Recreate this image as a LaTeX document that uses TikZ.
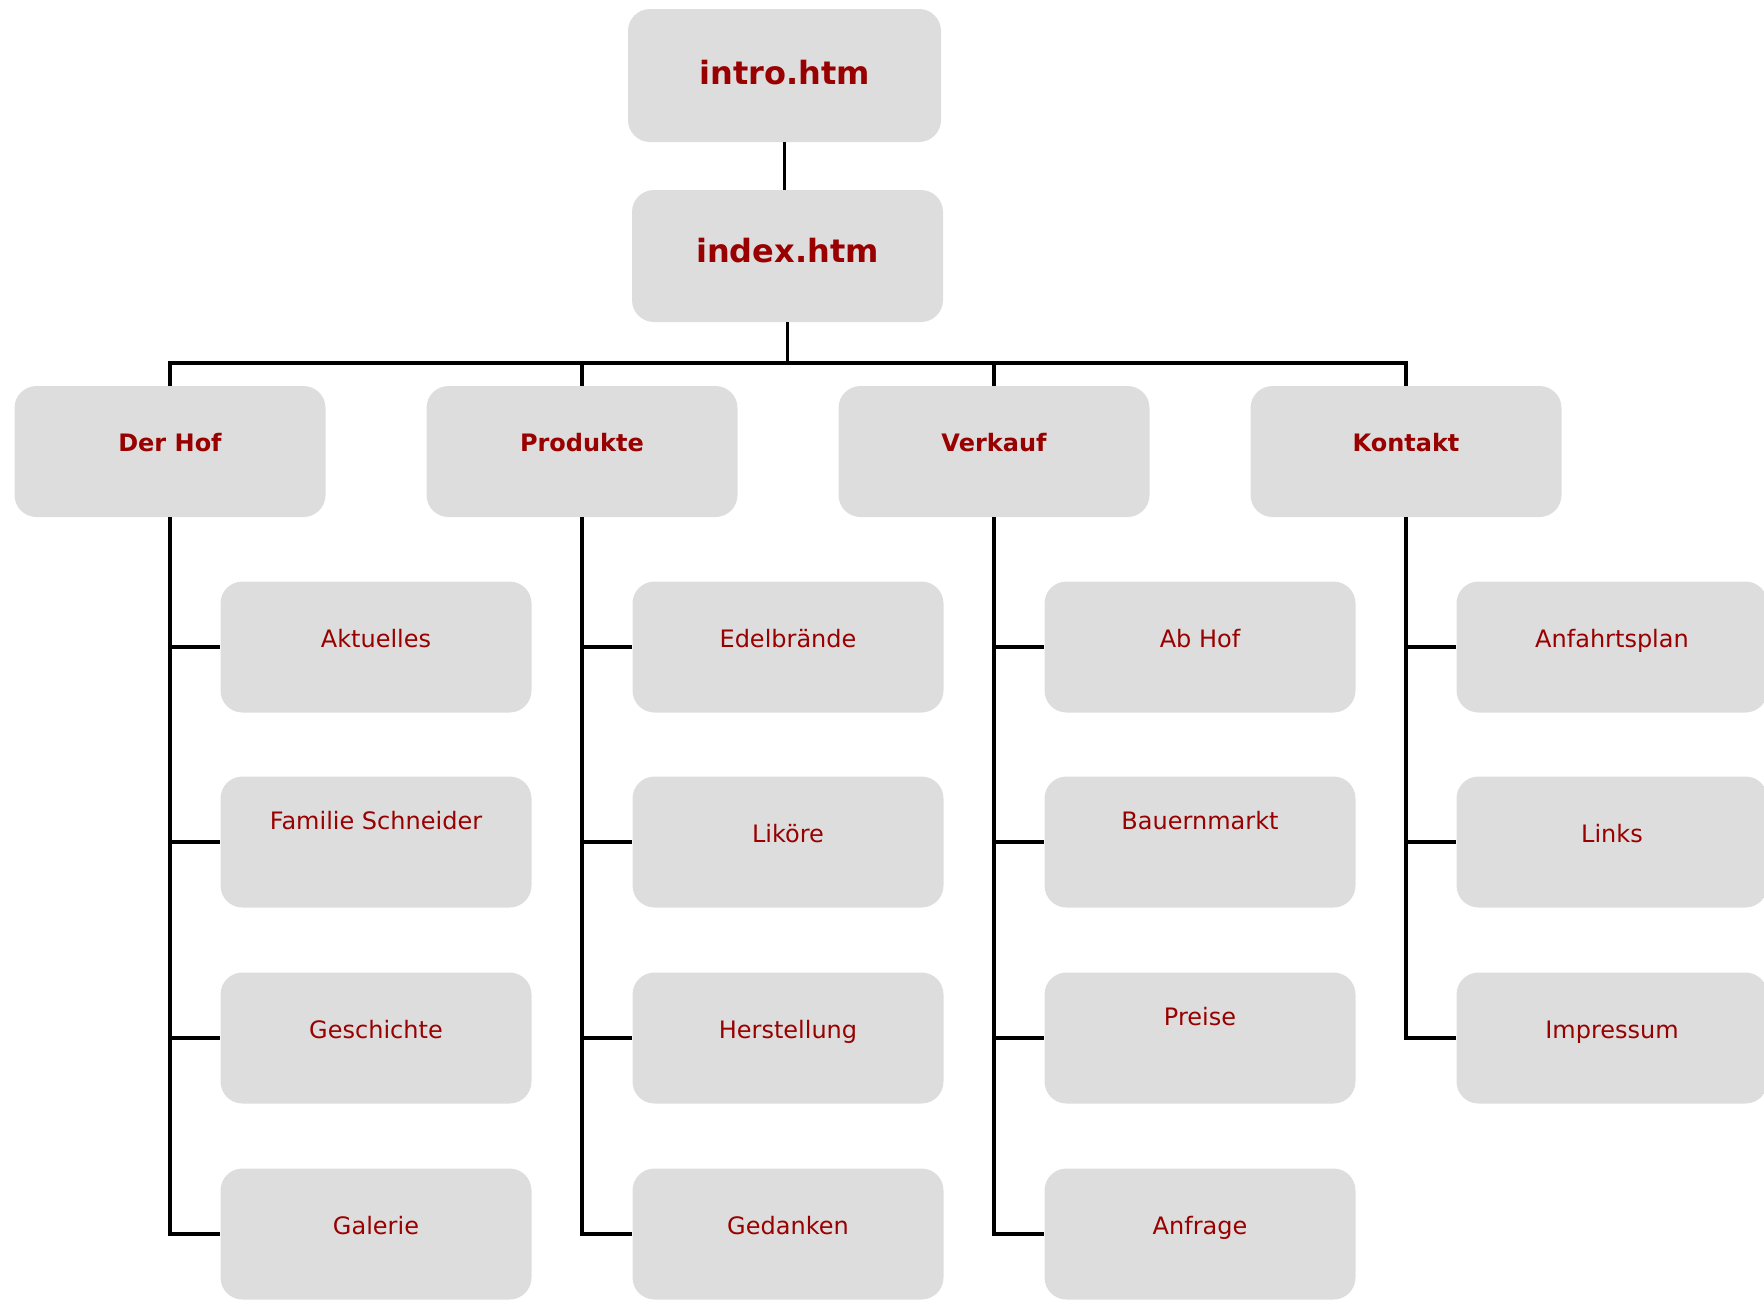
\documentclass[tikz,border=0pt]{standalone}
\usepackage{fontspec}
\setmainfont{DejaVu Sans}
\definecolor{boxgray}{HTML}{DDDDDD}
\definecolor{linkred}{HTML}{990000}
\begin{document}
\begin{tikzpicture}[x=1pt,y=-1pt,
  page/.style={rectangle, rounded corners=22pt, fill=boxgray, text=linkred,
    minimum width=311pt, minimum height=131pt, inner sep=0pt,
    text height=0pt, text depth=0pt, font=\fontsize{24}{28}\selectfont},
  section/.style={page, font=\bfseries\fontsize{24}{28}\selectfont},
  toppage/.style={page, minimum height=133pt, font=\bfseries\fontsize{32}{38}\selectfont},
  raised/.style={text depth=26pt},
  link/.style={line width=3.8pt, draw=black}]
\useasboundingbox (0,0) rectangle (1764,1299);

% start pages
\node[toppage, text height=18pt, minimum width=313pt] (intro) at (784.5,75.5) {intro.htm};
\node[toppage, text height=13pt, minimum height=132pt] (index) at (787.5,256) {index.htm};

% main sections
\node[section] (hof)   at (170,451.5)  {Der Hof};
\node[section] (prod)  at (582,451.5)  {Produkte};
\node[section] (verk)  at (994,451.5)  {Verkauf};
\node[section] (kont)  at (1406,451.5) {Kontakt};

% Der Hof
\node[page] (aktu) at (376,647) {Aktuelles};
\node[page, raised] (fam) at (376,842) {Familie Schneider};
\node[page] (gesch) at (376,1038) {Geschichte};
\node[page] (gal) at (376,1234) {Galerie};

% Produkte
\node[page] (edel) at (788,647) {Edelbrände};
\node[page] (lik) at (788,842) {Liköre};
\node[page] (herst) at (788,1038) {Herstellung};
\node[page] (ged) at (788,1234) {Gedanken};

% Verkauf
\node[page] (abhof) at (1200,647) {Ab Hof};
\node[page, raised] (bauer) at (1200,842) {Bauernmarkt};
\node[page, raised] (preis) at (1200,1038) {Preise};
\node[page] (anfr) at (1200,1234) {Anfrage};

% Kontakt
\node[page] (plan) at (1612,647) {Anfahrtsplan};
\node[page] (links) at (1612,842) {Links};
\node[page] (imp) at (1612,1038) {Impressum};

% connectors
\draw[link] (intro.south) -- (intro.south |- index.north);
\coordinate (bus) at (index.south |- 0,363);
\draw[link] (index.south) -- (bus);
\draw[link] (hof.north) -- (hof.north |- bus) -- (kont.north |- bus) -- (kont.north);
\draw[link] (prod.north) -- (prod.north |- bus);
\draw[link] (verk.north) -- (verk.north |- bus);

\draw[link] (hof.south) |- (gal.west);
\draw[link] (hof.south |- aktu.west) -- (aktu.west);
\draw[link] (hof.south |- fam.west) -- (fam.west);
\draw[link] (hof.south |- gesch.west) -- (gesch.west);

\draw[link] (prod.south) |- (ged.west);
\draw[link] (prod.south |- edel.west) -- (edel.west);
\draw[link] (prod.south |- lik.west) -- (lik.west);
\draw[link] (prod.south |- herst.west) -- (herst.west);

\draw[link] (verk.south) |- (anfr.west);
\draw[link] (verk.south |- abhof.west) -- (abhof.west);
\draw[link] (verk.south |- bauer.west) -- (bauer.west);
\draw[link] (verk.south |- preis.west) -- (preis.west);

\draw[link] (kont.south) |- (imp.west);
\draw[link] (kont.south |- plan.west) -- (plan.west);
\draw[link] (kont.south |- links.west) -- (links.west);
\end{tikzpicture}
\end{document}
